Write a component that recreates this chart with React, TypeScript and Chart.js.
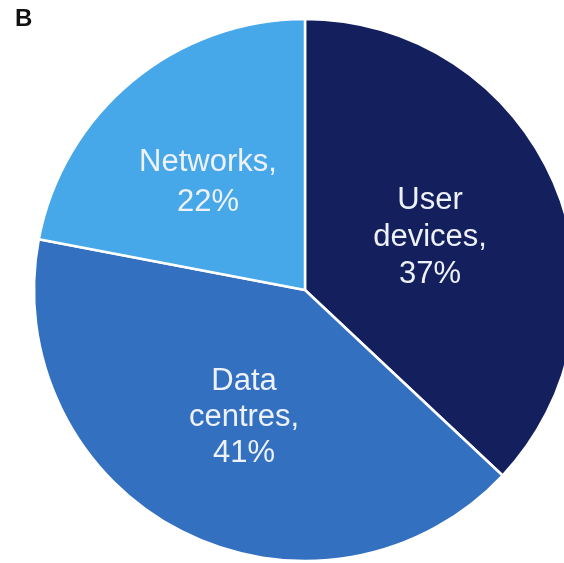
import React, { useEffect, useRef } from "react";
import { Chart, registerables } from "chart.js";

Chart.register(...registerables);

const categories = ["User devices", "Data centres", "Networks"];
const shares = [37, 41, 22];
const labelLines = [["User", "devices,", "37%"], ["Data", "centres,", "41%"], ["Networks,", "22%"]];
const colors = ["#14205E", "#3470C0", "#46A7E9"];
const panelLetter = "B";

const labelPlugin = {
  id: "sliceLabels",
  afterDatasetsDraw(chart: any, _args: any, opts: any) {
    const ctx = chart.ctx;
    const meta = chart.getDatasetMeta(0);
    ctx.save();
    ctx.fillStyle = "#EEF2F8";
    ctx.font = "31px 'Liberation Sans', Arial, sans-serif";
    ctx.textAlign = "center";
    ctx.textBaseline = "middle";
    meta.data.forEach((arc: any, i: number) => {
      const p = arc.getProps(["x", "y", "startAngle", "endAngle", "outerRadius"], true);
      const mid = (p.startAngle + p.endAngle) / 2 + opts.angleShift[i];
      const r = p.outerRadius * opts.fractions[i];
      const cx = p.x + Math.cos(mid) * r;
      const cy = p.y + Math.sin(mid) * r;
      const lines = labelLines[i];
      const lh = opts.lineHeights[i];
      lines.forEach((t, j) => {
        ctx.fillText(t, cx, cy + (j - (lines.length - 1) / 2) * lh);
      });
    });
    ctx.restore();
  },
  afterDraw(chart: any) {
    const ctx = chart.ctx;
    ctx.save();
    ctx.fillStyle = "#111";
    ctx.font = "bold 24px 'Liberation Sans', Arial, sans-serif";
    ctx.textAlign = "left";
    ctx.textBaseline = "alphabetic";
    ctx.fillText(panelLetter, 15, 26);
    ctx.restore();
  },
};

export default function App() {
  const ref = useRef<HTMLCanvasElement | null>(null);
  useEffect(() => {
    if (!ref.current) return;
    const chart = new Chart(ref.current, {
      type: "pie",
      data: {
        labels: categories,
        datasets: [
          {
            data: shares,
            backgroundColor: colors,
            borderColor: "#ffffff",
            borderWidth: 2.5,
            radius: 271,
          },
        ],
      },
      options: {
        animation: false,
        responsive: false,
        maintainAspectRatio: false,
        layout: { padding: 0 },
        plugins: {
          legend: { display: false },
          tooltip: { enabled: false },
          sliceLabels: {
            fractions: [0.5, 0.52, 0.535],
            angleShift: [0.014, -0.024, -0.042],
            lineHeights: [37, 36, 40],
          },
        } as any,
      },
      plugins: [labelPlugin],
    });
    return () => chart.destroy();
  }, []);
  return (
    <div
      style={{
        position: "fixed",
        left: 0,
        top: 0,
        width: 564,
        height: 563,
        overflow: "hidden",
        background: "#fff",
      }}
    >
      <canvas ref={ref} width={610} height={580} style={{ display: "block", width: 610, height: 580 }} />
    </div>
  );
}
